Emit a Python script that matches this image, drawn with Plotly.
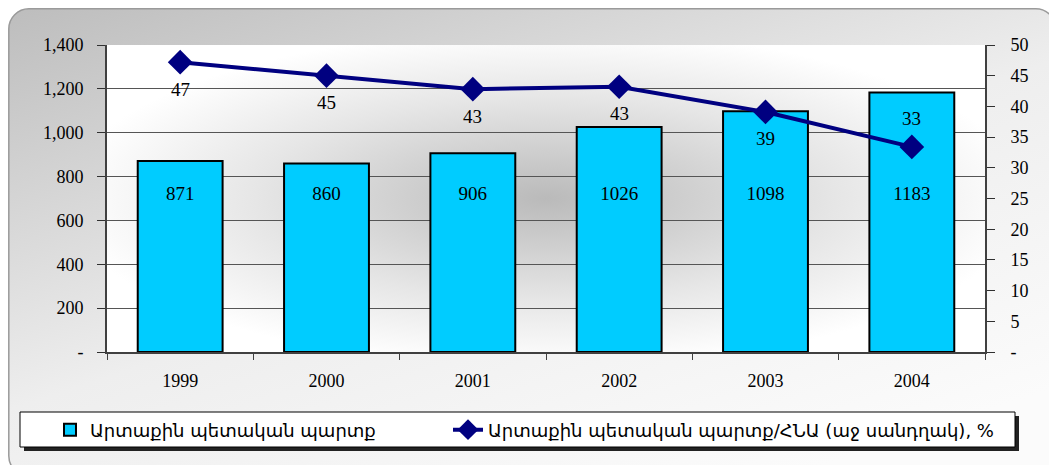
import base64
import plotly.graph_objects as go

# data
years = ["1999", "2000", "2001", "2002", "2003", "2004"]
debt = [871, 860, 906, 1026, 1098, 1183]
debt_gdp = [47.2, 45.0, 42.8, 43.2, 39.1, 33.4]
debt_gdp_labels = ["47", "45", "43", "43", "39", "33"]
label_above = [False, False, False, False, False, True]

left_ticks = [0, 200, 400, 600, 800, 1000, 1200, 1400]
left_ticktext = ["-", "200", "400", "600", "800", "1,000", "1,200", "1,400"]
right_ticks = [0, 5, 10, 15, 20, 25, 30, 35, 40, 45, 50]
right_ticktext = ["-"] + [str(v) for v in right_ticks[1:]]

name_bar = "Արտաքին պետական պարտք"
name_line = "Արտաքին պետական պարտք/ՀՆԱ (աջ սանդղակ), %"

# page geometry (the page body has an 8px margin)
W, H = 1057, 465
BODY = 8
ML, MR, MT, MB = 107, 72, 45, 113
PW, PH = W - ML - MR, H - MT - MB
BAR_LABEL_LEVEL = 715
SERIF = "Liberation Serif, Times New Roman, serif"
ARM = "DejaVu Sans, Liberation Serif, serif"


def px_x(x):
    return (x - ML) / PW


def px_y(y):
    return (H - MB - y) / PH


def svg_uri(svg):
    return "data:image/svg+xml;base64," + base64.b64encode(svg.encode()).decode()


FW, FH = W - BODY, H - BODY
frame_svg = f"""<svg xmlns='http://www.w3.org/2000/svg' width='{FW}' height='{FH}' viewBox='0 0 {FW} {FH}' preserveAspectRatio='none'>
<defs><linearGradient id='g' x1='0' y1='0' x2='0.75' y2='1'>
<stop offset='0' stop-color='#bdbdbd'/><stop offset='0.55' stop-color='#eeeeee'/><stop offset='1' stop-color='#fbfbfb'/>
</linearGradient></defs>
<rect x='0.8' y='0.8' width='{FW - 2}' height='{FH + 10}' rx='20' ry='20' fill='url(#g)' stroke='#9a9a9a' stroke-width='1.5'/>
</svg>"""

plot_svg = """<svg xmlns='http://www.w3.org/2000/svg' width='878' height='307' viewBox='0 0 878 307' preserveAspectRatio='none'>
<defs><radialGradient id='r' cx='0.5' cy='0.5' r='0.55'>
<stop offset='0' stop-color='#bababa'/><stop offset='0.6' stop-color='#e6e6e6'/><stop offset='1' stop-color='#ffffff'/>
</radialGradient></defs>
<rect x='0' y='0' width='878' height='307' fill='url(#r)'/>
</svg>"""

fig = go.Figure()

fig.add_trace(go.Bar(
    x=years, y=debt, name=name_bar, width=0.58,
    marker=dict(color="#00CCFF", line=dict(color="black", width=2)),
    hoverinfo="x+y", legend="legend",
))
fig.add_trace(go.Scatter(
    x=years, y=[BAR_LABEL_LEVEL] * len(years), mode="text",
    text=[str(v) for v in debt], textfont=dict(family=SERIF, size=19, color="black"),
    showlegend=False, hoverinfo="skip",
))
fig.add_trace(go.Scatter(
    x=years, y=debt_gdp, name=name_line, yaxis="y2", mode="lines+markers",
    line=dict(color="#000080", width=4),
    marker=dict(symbol="diamond", size=19, color="#000080"),
    legend="legend2",
))

# category axis: annotations positioned by category index
for i, (v, lab, up) in enumerate(zip(debt_gdp, debt_gdp_labels, label_above)):
    fig.add_annotation(
        x=i, y=v, xref="x", yref="y2", text=lab, showarrow=False,
        yshift=28 if up else -27, font=dict(family=SERIF, size=19, color="black"),
    )

# legend box with shadow
lx0, lx1, ly0, ly1 = 20, 1015, 412, 447
fig.add_shape(type="rect", xref="paper", yref="paper",
              x0=px_x(lx0 + 4), x1=px_x(lx1 + 4), y0=px_y(ly1 + 4), y1=px_y(ly0 + 4),
              fillcolor="#222222", line=dict(width=0), layer="below")
fig.add_shape(type="rect", xref="paper", yref="paper",
              x0=px_x(lx0), x1=px_x(lx1), y0=px_y(ly1), y1=px_y(ly0),
              fillcolor="white", line=dict(color="black", width=1), layer="below")

legend_common = dict(
    orientation="h", yanchor="middle", xanchor="left",
    bgcolor="rgba(0,0,0,0)", borderwidth=0, itemwidth=30,
    font=dict(family=ARM, size=18, color="black"),
)

fig.update_layout(
    width=FW, height=FH,
    margin=dict(l=ML - BODY, r=MR, t=MT - BODY, b=MB, autoexpand=False),
    paper_bgcolor="white", plot_bgcolor="rgba(0,0,0,0)",
    font=dict(family=SERIF, size=18, color="black"),
    images=[
        dict(source=svg_uri(frame_svg), xref="paper", yref="paper",
             x=px_x(BODY), y=px_y(BODY), sizex=FW / PW, sizey=FH / PH,
             sizing="stretch", layer="below"),
        dict(source=svg_uri(plot_svg), xref="paper", yref="paper",
             x=0, y=1, sizex=1, sizey=1, sizing="stretch", layer="below"),
    ],
    xaxis=dict(
        type="category", tickson="boundaries", ticks="outside", ticklen=6,
        tickcolor="#404040", showline=True, linecolor="#404040", linewidth=1.5,
        showgrid=False, tickfont=dict(family=SERIF, size=18), tickangle=0,
        ticklabelstandoff=12,
    ),
    yaxis=dict(
        range=[0, 1400], tickvals=left_ticks, ticktext=left_ticktext,
        ticks="outside", ticklen=8, tickcolor="#303030",
        showline=True, linecolor="#404040", linewidth=2,
        showgrid=True, gridcolor="#555555", gridwidth=1,
        zeroline=False, tickfont=dict(family=SERIF, size=18),
        ticklabelstandoff=10,
    ),
    yaxis2=dict(
        range=[0, 50], tickvals=right_ticks, ticktext=right_ticktext,
        overlaying="y", side="right", ticks="outside", ticklen=8, tickcolor="#303030",
        showline=True, linecolor="#404040", linewidth=2, showgrid=False, zeroline=False,
        tickfont=dict(family=SERIF, size=18), ticklabelstandoff=12,
    ),
    legend=dict(x=px_x(50), y=px_y(430), **legend_common),
    legend2=dict(x=px_x(448), y=px_y(430), **legend_common),
    showlegend=True,
)

fig.write_html("out.html")
